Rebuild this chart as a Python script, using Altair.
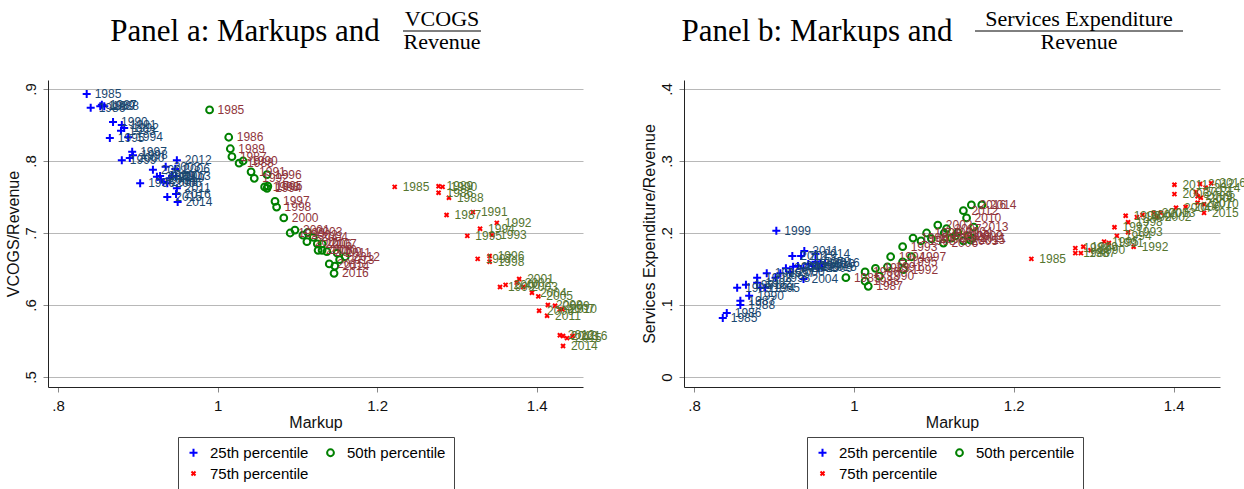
import altair as alt
import pandas as pd

years = list(range(1985, 2017))
series_names = ["25th percentile", "50th percentile", "75th percentile"]

# Panel a: markup percentiles against VCOGS / revenue
a25_markup = [0.836, 0.841, 0.855, 0.858, 0.853, 0.869, 0.880, 0.883, 0.879, 0.888, 0.865, 0.903,
              0.893, 0.894, 0.880, 0.890, 0.919, 0.924, 0.935, 0.929, 0.937, 0.947, 0.943, 0.932,
              0.928, 0.940, 0.949, 0.949, 0.948, 0.950, 0.937, 0.948]
a25_ratio = [0.893, 0.874, 0.878, 0.876, 0.876, 0.854, 0.850, 0.846, 0.842, 0.833, 0.832, 0.769,
             0.813, 0.808, 0.801, 0.804, 0.788, 0.778, 0.792, 0.774, 0.769, 0.789, 0.779, 0.771,
             0.779, 0.776, 0.762, 0.801, 0.779, 0.743, 0.750, 0.754]
a50_markup = [0.990, 1.014, 1.018, 1.027, 1.016, 1.032, 1.042, 1.046, 1.059, 1.062, 1.063, 1.062,
              1.072, 1.074, 1.091, 1.083, 1.097, 1.107, 1.113, 1.120, 1.112, 1.125, 1.131, 1.126,
              1.137, 1.131, 1.150, 1.160, 1.153, 1.147, 1.140, 1.146]
a50_ratio = [0.871, 0.833, 0.806, 0.797, 0.817, 0.800, 0.785, 0.776, 0.764, 0.762, 0.765, 0.781,
             0.744, 0.736, 0.700, 0.721, 0.704, 0.697, 0.701, 0.694, 0.688, 0.685, 0.685, 0.676,
             0.674, 0.676, 0.672, 0.667, 0.663, 0.654, 0.657, 0.644]
a75_markup = [1.222, 1.277, 1.287, 1.290, 1.277, 1.282, 1.320, 1.350, 1.344, 1.329, 1.313, 1.341,
              1.326, 1.341, 1.354, 1.361, 1.378, 1.375, 1.383, 1.394, 1.402, 1.403, 1.429, 1.414,
              1.423, 1.432, 1.413, 1.429, 1.433, 1.433, 1.438, 1.445]
a75_ratio = [0.764, 0.756, 0.725, 0.749, 0.765, 0.764, 0.729, 0.714, 0.697, 0.706, 0.696, 0.668,
             0.664, 0.660, 0.625, 0.628, 0.636, 0.631, 0.625, 0.617, 0.612, 0.592, 0.594, 0.600,
             0.599, 0.594, 0.585, 0.558, 0.557, 0.543, 0.554, 0.557]

# Panel b: markup percentiles against services expenditure / revenue
b25_markup = [0.836, 0.841, 0.858, 0.858, 0.854, 0.869, 0.865, 0.879, 0.879, 0.883, 0.889, 0.891,
              0.908, 0.902, 0.903, 0.920, 0.915, 0.924, 0.930, 0.937, 0.937, 0.943, 0.948, 0.952,
              0.955, 0.958, 0.938, 0.923, 0.934, 0.952, 0.960, 0.964]
b25_ratio = [0.082, 0.089, 0.106, 0.100, 0.124, 0.113, 0.128, 0.131, 0.138, 0.124, 0.124, 0.144,
             0.144, 0.138, 0.203, 0.146, 0.151, 0.153, 0.154, 0.136, 0.151, 0.157, 0.154, 0.160,
             0.151, 0.157, 0.175, 0.168, 0.168, 0.171, 0.153, 0.158]
b50_markup = [0.990, 1.014, 1.018, 1.014, 1.027, 1.032, 1.042, 1.062, 1.061, 1.046, 1.061, 1.074,
              1.072, 1.084, 1.091, 1.097, 1.113, 1.105, 1.122, 1.130, 1.137, 1.112, 1.116, 1.127,
              1.143, 1.141, 1.148, 1.137, 1.150, 1.160, 1.146, 1.147]
b50_ratio = [0.138, 0.146, 0.126, 0.133, 0.151, 0.140, 0.153, 0.149, 0.181, 0.167, 0.160, 0.193,
             0.167, 0.189, 0.200, 0.192, 0.200, 0.211, 0.193, 0.201, 0.189, 0.186, 0.206, 0.196,
             0.196, 0.221, 0.193, 0.231, 0.208, 0.239, 0.190, 0.239]
b75_markup = [1.222, 1.277, 1.284, 1.277, 1.287, 1.296, 1.319, 1.350, 1.343, 1.329, 1.313, 1.340,
              1.326, 1.343, 1.354, 1.361, 1.375, 1.379, 1.384, 1.403, 1.415, 1.401, 1.430, 1.434,
              1.430, 1.438, 1.401, 1.433, 1.428, 1.440, 1.438, 1.447]
b75_ratio = [0.164, 0.172, 0.172, 0.179, 0.181, 0.176, 0.186, 0.181, 0.201, 0.196, 0.188, 0.224,
             0.208, 0.215, 0.222, 0.225, 0.228, 0.222, 0.228, 0.235, 0.236, 0.254, 0.242, 0.249,
             0.251, 0.240, 0.267, 0.268, 0.257, 0.263, 0.228, 0.269]

marker_colors = ["#0000ff", "#008000", "#ff0000"]
label_colors = ["#1a476f", "#90353b", "#55752f"]
marker_shapes = [
    "M-1,0L1,0M0,-1L0,1",                                          # plus
    "M-0.85,0A0.85,0.85,0,1,0,0.85,0A0.85,0.85,0,1,0,-0.85,0Z",    # hollow circle
    "M-0.5,-0.5L0.5,0.5M-0.5,0.5L0.5,-0.5",                        # small x
]

SANS = "Liberation Sans"
SERIF = "Liberation Serif"
W_A, W_B, H = 535, 536, 307


def long_table(cols):
    frames = []
    for name, (xs, ys) in zip(series_names, cols):
        frames.append(pd.DataFrame({"series": name, "markup": xs, "ratio": ys,
                                    "label": [str(y) for y in years]}))
    return pd.concat(frames, ignore_index=True)


def text_item(txt, x, y, size, font=SERIF):
    return alt.Chart(pd.DataFrame({"t": [txt]})).mark_text(
        font=font, fontSize=size, align="center", baseline="alphabetic", color="black"
    ).encode(text="t:N", x=alt.value(x), y=alt.value(y))


def rule_item(x1, x2, y):
    return alt.Chart(pd.DataFrame({"t": [0]})).mark_rule(color="black", strokeWidth=1).encode(
        x=alt.value(x1), x2=alt.value(x2), y=alt.value(y))


LABEL_EXPR = ("datum.value == 0 ? '0' : "
              "replace(toString(round(datum.value*10)/10), /^0\\./, '.')")


def panel(df, width, ydom, yvals, ytitle, legend_x, head_x, frac_x, numerator, frac_half):
    xenc = alt.X("markup:Q",
                 scale=alt.Scale(domain=[0.7875, 1.458], nice=False, zero=False),
                 axis=alt.Axis(values=[0.8, 1.0, 1.2, 1.4], title="Markup", labelExpr=LABEL_EXPR))
    yenc = alt.Y("ratio:Q",
                 scale=alt.Scale(domain=ydom, nice=False, zero=False),
                 axis=alt.Axis(values=yvals, title=ytitle, labelAngle=-90,
                               labelAlign="center", labelBaseline="bottom", labelExpr=LABEL_EXPR))
    stroke = alt.Stroke(
        "series:N", scale=alt.Scale(domain=series_names, range=marker_colors),
        legend=alt.Legend(title=None, orient="none", legendX=legend_x, legendY=357,
                          direction="horizontal", columns=2, padding=8, rowPadding=5,
                          columnPadding=14, labelOffset=9, labelFont=SANS, labelFontSize=15,
                          labelColor="black", symbolStrokeWidth=2, symbolSize=64,
                          symbolFillColor="transparent", strokeColor="#444", fillColor="white"))
    shape = alt.Shape("series:N", scale=alt.Scale(domain=series_names, range=marker_shapes))

    layers = []
    for name, lab_color in zip(series_names, label_colors):
        sub = alt.Chart(df).transform_filter(alt.datum.series == name)
        layers.append(sub.mark_point(size=64, strokeWidth=2, filled=False, opacity=1).encode(
            x=xenc, y=yenc, stroke=stroke, shape=shape))
        layers.append(sub.mark_text(align="left", baseline="middle", dx=8, font=SANS,
                                    fontSize=12, color=lab_color).encode(
            x=xenc, y=yenc, text="label:N"))

    layers += [
        text_item(head_x[0], head_x[1], -39, 31),
        text_item(numerator, frac_x, -54, 22),
        rule_item(frac_x - frac_half, frac_x + frac_half, -49),
        text_item("Revenue", frac_x, -31, 22),
    ]
    return alt.layer(*layers).properties(width=width, height=H)


df_a = long_table([(a25_markup, a25_ratio), (a50_markup, a50_ratio), (a75_markup, a75_ratio)])
df_b = long_table([(b25_markup, b25_ratio), (b50_markup, b50_ratio), (b75_markup, b75_ratio)])

left = panel(df_a, W_A, [0.4861, 0.9125], [0.5, 0.6, 0.7, 0.8, 0.9], "VCOGS/Revenue",
             130, ("Panel a: Markups and", 197), 394, "VCOGS", 39)
right = panel(df_b, W_B, [-0.0139, 0.4125], [0.0, 0.1, 0.2, 0.3, 0.4],
              "Services Expenditure/Revenue",
              123, ("Panel b: Markups and", 133), 395, "Services Expenditure", 104)

chart = alt.hconcat(left, right, spacing=101, bounds="flush").resolve_scale(
    x="independent", y="independent", stroke="independent", shape="independent"
).resolve_legend(stroke="independent", shape="independent").properties(
    autosize=alt.AutoSizeParams(type="none"),
    padding={"left": 48, "top": 80, "right": 1196, "bottom": 409},
).configure_view(stroke=None).configure_axis(
    domainColor="#222", domainWidth=1, gridColor="#b8b8b8", gridWidth=1,
    tickColor="#888", tickSize=5, tickWidth=1,
    labelFont=SANS, labelFontSize=15, labelColor="#111", labelPadding=5,
    titleFont=SANS, titleFontSize=16, titleFontWeight="normal", titleColor="#111",
).configure_axisX(grid=False, labelPadding=6, titlePadding=1).configure_axisY(
    grid=True, titlePadding=2
)

chart.save("out.html", embed_options={"renderer": "svg", "actions": False})
